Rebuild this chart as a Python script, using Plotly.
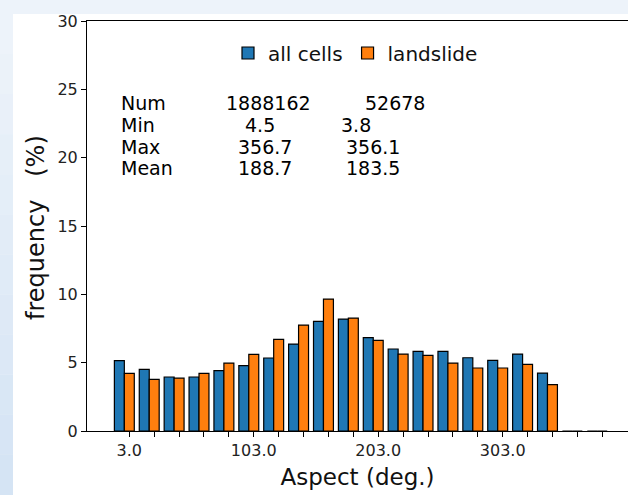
import plotly.graph_objects as go

# ---- data ----
bin_centers = [-1, 19, 39, 59, 79, 99, 119, 139, 159, 179,
               199, 219, 239, 259, 279, 299, 319, 339, 359, 379]
all_cells = [5.15, 4.51, 3.95, 3.95, 4.42, 4.78, 5.34, 6.36, 8.02, 8.19,
             6.83, 6.00, 5.83, 5.83, 5.36, 5.17, 5.63, 4.24, 0, 0]
landslide = [4.22, 3.78, 3.87, 4.22, 4.97, 5.61, 6.70, 7.75, 9.65, 8.26,
             6.63, 5.63, 5.53, 4.97, 4.61, 4.61, 4.88, 3.39, 0, 0]
tick_vals = [3, 23, 43, 63, 83, 103, 123, 143, 163, 183,
             203, 223, 243, 263, 283, 303, 323, 343, 363, 383]
tick_labels = {3: "3.0", 103: "103.0", 203: "203.0", 303: "303.0"}
y_ticks = [0, 5, 10, 15, 20, 25, 30]
stat_rows = ["Num", "Min", "Max", "Mean"]
stat_all = ["1888162", "4.5", "356.7", "188.7"]
stat_land = ["52678", "3.8", "356.1", "183.5"]

W, H = 628, 495
L, R, T, B = 87, 0, 21, 64
PW, PH = W - L - R, H - T - B
FONT = "DejaVu Sans"

def px(x):
    return (x - L) / PW

def py(y):
    return (H - B - y) / PH

fig = go.Figure()
fig.add_trace(go.Bar(x=bin_centers, y=all_cells, name="all cells",
                     marker=dict(color="#1f77b4", line=dict(color="black", width=1.2))))
fig.add_trace(go.Bar(x=bin_centers, y=landslide, name="landslide",
                     marker=dict(color="#ff7f0e", line=dict(color="black", width=1.2))))

# background frame
shapes = [dict(type="rect", xref="paper", yref="paper", x0=px(13), x1=1.0,
               y0=py(H), y1=py(14), fillcolor="white", line_width=0, layer="below")]
top_c = (237, 243, 250)
bot_c = (213, 228, 244)
nb = 12
for i in range(nb):
    t = i / (nb - 1)
    c = tuple(int(round(top_c[k] + (bot_c[k] - top_c[k]) * t)) for k in range(3))
    y0 = 14 + (H - 14) * i / nb
    y1 = 14 + (H - 14) * (i + 1) / nb
    shapes.append(dict(type="rect", xref="paper", yref="paper", x0=px(0), x1=px(13),
                       y0=py(y1), y1=py(y0), fillcolor="rgb(%d,%d,%d)" % c,
                       line_width=0, layer="below"))

annotations = []
row_y = [103.3, 125.0, 146.7, 168.3]
col2_x = [224, 243, 236.3, 236.3]
col3_x = [363, 338.7, 344, 344]
for i in range(4):
    annotations.append(dict(xref="paper", yref="paper", x=px(118.7), y=py(row_y[i]),
                            text=stat_rows[i], showarrow=False, xanchor="left", yanchor="middle"))
    annotations.append(dict(xref="paper", yref="paper", x=px(col2_x[i]), y=py(row_y[i]),
                            text=stat_all[i], showarrow=False, xanchor="left", yanchor="middle"))
    annotations.append(dict(xref="paper", yref="paper", x=px(col3_x[i]), y=py(row_y[i]),
                            text=stat_land[i], showarrow=False, xanchor="left", yanchor="middle"))

# y-axis title as rotated annotation
annotations.append(dict(xref="paper", yref="paper", x=px(36), y=py(228),
                        text="frequency   (%)", textangle=-90, showarrow=False,
                        xanchor="center", yanchor="middle",
                        font=dict(size=24, color="#111")))

fig.update_layout(
    width=W, height=H,
    margin=dict(l=L, r=R, t=T, b=B, pad=0),
    paper_bgcolor="#edf3fa",
    plot_bgcolor="white",
    font=dict(family=FONT, size=19, color="black"),
    barmode="group", bargap=0.2, bargroupgap=0,
    shapes=shapes,
    annotations=annotations,
    legend=dict(orientation="h", x=px(228), y=py(53), xanchor="left", yanchor="middle",
                font=dict(size=20, color="#111"), bgcolor="rgba(0,0,0,0)",
                traceorder="normal"),
    xaxis=dict(range=[-31, 403.7], tickmode="array", tickvals=tick_vals,
               ticktext=[tick_labels.get(v, "") for v in tick_vals],
               ticks="outside", ticklen=5, tickwidth=1, tickcolor="black",
               showline=True, linecolor="black", linewidth=1, mirror=True,
               showgrid=False, zeroline=False,
               tickfont=dict(size=16, color="#222"),
               title=dict(text="Aspect (deg.)", font=dict(size=23, color="#111"), standoff=9)),
    yaxis=dict(range=[0, 30], tickmode="array", tickvals=y_ticks,
               ticks="outside", ticklen=5, tickwidth=1, tickcolor="black",
               showline=True, linecolor="black", linewidth=1,
               showgrid=False, zeroline=False,
               tickfont=dict(size=16, color="#222")),
)

fig.write_html("out.html")
